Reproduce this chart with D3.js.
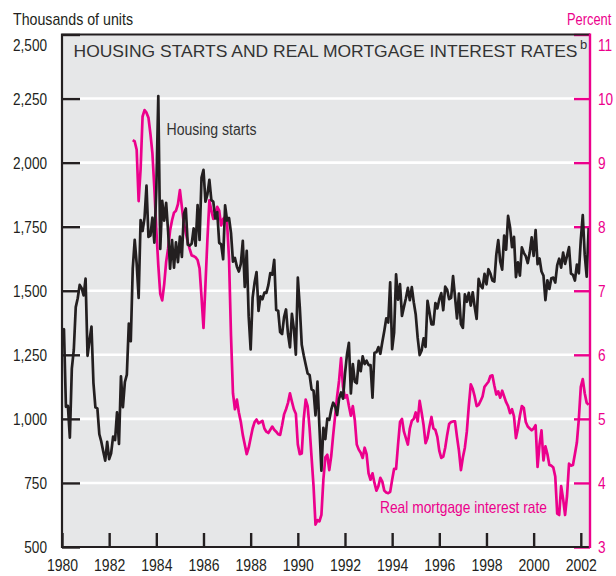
<!DOCTYPE html>
<html>
<head>
<meta charset="utf-8">
<script src="https://cdn.jsdelivr.net/npm/d3@7"></script>
<style>
  html, body { margin: 0; padding: 0; background: #fff; }
  svg { display: block; }
  text { font-family: "Liberation Sans", Arial, Helvetica, sans-serif; }
</style>
</head>
<body>
<svg id="chart" width="616" height="576"></svg>
<script>
// Housing starts, thousands of units (seasonally adjusted annual rate), monthly from Jan 1980
const housingStartYear = 1980;
const housingStarts = [
  1341, 1350, 1047, 1051, 927, 1196, 1269, 1436, 1471, 1523, 1510, 1482,   // 1980
  1547, 1246, 1306, 1360, 1140, 1045, 1041, 940, 911, 873, 837, 910,       // 1981
  843, 866, 931, 917, 1025, 902, 1166, 1046, 1144, 1173, 1372, 1303,       // 1982
  1586, 1699, 1606, 1472, 1776, 1733, 1785, 1910, 1710, 1715, 1785, 1688,  // 1983
  1897, 2260, 1663, 1851, 1774, 1843, 1732, 1586, 1698, 1590, 1689, 1612,  // 1984
  1711, 1632, 1800, 1821, 1680, 1676, 1684, 1743, 1676, 1834, 1698, 1942,  // 1985
  1972, 1848, 1876, 1933, 1854, 1847, 1782, 1807, 1687, 1681, 1623, 1833,  // 1986
  1774, 1784, 1726, 1614, 1628, 1594, 1575, 1605, 1695, 1515, 1656, 1400,  // 1987
  1271, 1473, 1532, 1573, 1421, 1478, 1467, 1493, 1492, 1522, 1569, 1563,  // 1988
  1621, 1425, 1422, 1339, 1331, 1397, 1427, 1332, 1279, 1410, 1351, 1251,  // 1989
  1551, 1437, 1289, 1248, 1212, 1177, 1171, 1115, 1110, 1014, 1145, 969,   // 1990
  798, 965, 921, 1001, 996, 1036, 1063, 1049, 1015, 1079, 1103, 1079,      // 1991
  1176, 1250, 1297, 1099, 1214, 1145, 1139, 1226, 1186, 1244, 1214, 1227,  // 1992
  1210, 1210, 1083, 1258, 1260, 1280, 1254, 1300, 1343, 1392, 1376, 1533,  // 1993
  1272, 1337, 1564, 1465, 1526, 1402, 1437, 1471, 1511, 1463, 1514, 1455,  // 1994
  1407, 1316, 1249, 1267, 1314, 1281, 1461, 1416, 1369, 1369, 1452, 1431,  // 1995
  1467, 1491, 1424, 1516, 1504, 1467, 1472, 1557, 1475, 1392, 1489, 1370,  // 1996
  1355, 1486, 1457, 1492, 1442, 1494, 1437, 1390, 1546, 1520, 1510, 1566,  // 1997
  1525, 1584, 1567, 1540, 1536, 1641, 1698, 1614, 1582, 1715, 1660, 1792,  // 1998
  1748, 1670, 1710, 1553, 1611, 1559, 1669, 1648, 1635, 1608, 1648, 1708,  // 1999
  1636, 1737, 1604, 1626, 1575, 1559, 1463, 1541, 1507, 1549, 1551, 1532,  // 2000
  1600, 1625, 1590, 1649, 1605, 1636, 1670, 1567, 1562, 1540, 1602, 1568,  // 2001
  1700, 1795, 1640, 1555, 1745                                             // 2002
];

// Real mortgage interest rate, percent, monthly from Jan 1983
const rateStartYear = 1983;
const mortgageRate = [
  9.35, 9.33, 9.2, 8.4, 8.9, 9.72, 9.82, 9.78, 9.7, 9.45, 9.15, 8.6,       // 1983
  7.95, 7.4, 6.95, 6.85, 7.1, 7.45, 7.66, 7.94, 8.1, 8.22, 8.25, 8.35,     // 1984
  8.57, 8.31, 8.05, 7.9, 7.76, 7.65, 7.55, 7.54, 7.52, 7.48, 7.35, 6.9,    // 1985
  6.42, 7.1, 7.8, 8.41, 8.25, 8.12, 8.2, 8.31, 8.25, 8.02, 8.12, 8.15,     // 1986
  8.05, 7.5, 6.3, 5.4, 5.15, 5.3, 5.1, 4.95, 4.75, 4.6, 4.45, 4.55,        // 1987
  4.7, 4.85, 4.95, 4.99, 4.93, 4.95, 4.97, 4.85, 4.8, 4.78, 4.83, 4.88,    // 1988
  4.83, 4.8, 4.76, 4.75, 4.9, 5.07, 5.15, 5.25, 5.4, 5.27, 5.15, 5.08,     // 1989
  4.6, 4.45, 4.46, 5.0, 5.3, 5.2, 4.85, 4.4, 3.95, 3.35, 3.42, 3.4,        // 1990
  3.5, 4.05, 4.4, 4.44, 4.2, 4.42, 4.75, 5.05, 5.35, 5.6, 5.95, 5.5,       // 1991
  5.33, 5.37, 5.2, 5.05, 5.2, 4.98, 4.6, 4.52, 4.47, 4.39, 4.55, 4.45,     // 1992
  4.15, 4.05, 4.15, 4.0, 3.88, 3.95, 4.08, 4.02, 3.88, 3.85, 3.84, 3.86,   // 1993
  4.05, 4.22, 4.22, 4.6, 4.95, 5.0, 4.8, 4.7, 4.6, 4.85, 4.97, 5.0,        // 1994
  5.1, 4.96, 5.28, 5.1, 4.9, 4.62, 4.7, 4.88, 5.03, 4.85, 4.83, 4.72,      // 1995
  4.5, 4.39, 4.41, 4.55, 4.75, 4.92, 4.95, 4.96, 4.96, 4.72, 4.5, 4.2,     // 1996
  4.4, 4.55, 4.8, 5.2, 5.54, 5.47, 5.35, 5.2, 5.22, 5.28, 5.35, 5.5,       // 1997
  5.54, 5.58, 5.67, 5.68, 5.52, 5.38, 5.43, 5.33, 5.44, 5.35, 5.26, 5.2,   // 1998
  5.09, 5.15, 5.04, 4.7, 4.85, 5.05, 5.2, 5.17, 4.95, 4.88, 4.85, 4.82,    // 1999
  4.85, 4.9, 4.25, 4.6, 4.82, 4.35, 4.57, 4.45, 4.28, 4.27, 4.24, 4.1,     // 2000
  3.52, 3.5, 3.95, 3.75, 3.5, 3.8, 4.3, 4.27, 4.28, 4.45, 4.63, 5.0,       // 2001
  5.5, 5.62, 5.4, 5.25, 5.22                                               // 2002
];

// Axis ticks and labels
const leftTicks = [500, 750, 1000, 1250, 1500, 1750, 2000, 2250, 2500];
const rightTicks = [3, 4, 5, 6, 7, 8, 9, 10, 11];
const yearTicks = [1980, 1982, 1984, 1986, 1988, 1990, 1992, 1994, 1996, 1998, 2000, 2002];
const titleText = "HOUSING STARTS AND REAL MORTGAGE INTEREST RATES";
const titleNote = "b";
const leftAxisTitle = "Thousands of units";
const rightAxisTitle = "Percent";
const housingLabel = "Housing starts";
const rateLabel = "Real mortgage interest rate";

const INK = "#231f20";
const PINK = "#ec008c";
const PANEL = "#e6e7e8";

const plot = { left: 62, right: 590, top: 34.5, bottom: 547 };

const x = d3.scaleLinear().domain([1980, 2002.39]).range([plot.left, plot.right]);
const yL = d3.scaleLinear().domain([500, 2500]).range([plot.bottom, plot.top]);
const yR = d3.scaleLinear().domain([3, 11]).range([plot.bottom, plot.top]);

const housingSeries = housingStarts.map((v, i) => ({ t: housingStartYear + i / 12, v }));
const rateSeries = mortgageRate.map((v, i) => ({ t: rateStartYear + i / 12, v }));

const svg = d3.select("#chart");

// condense a text element horizontally by a ratio of its natural width
function condense(sel, ratio) {
  sel.each(function () {
    const w = this.getComputedTextLength();
    d3.select(this).attr("textLength", (w * ratio).toFixed(1)).attr("lengthAdjust", "spacingAndGlyphs");
  });
}

// panel
svg.append("rect")
  .attr("x", plot.left).attr("y", plot.top)
  .attr("width", plot.right - plot.left).attr("height", plot.bottom - plot.top)
  .attr("fill", PANEL);

// white gridlines
svg.append("g").selectAll("line")
  .data(leftTicks.slice(1, -1))
  .join("line")
  .attr("x1", plot.left).attr("x2", plot.right)
  .attr("y1", d => yL(d)).attr("y2", d => yL(d))
  .attr("stroke", "#fff").attr("stroke-width", 2.6);

// left axis: inward ticks, labels outside
const leftAxis = svg.append("g")
  .attr("transform", `translate(${plot.left},0)`)
  .call(d3.axisLeft(yL).tickValues(leftTicks).tickFormat(d3.format(",")).tickSizeInner(-18).tickSizeOuter(0).tickPadding(15));
leftAxis.select(".domain").remove();
leftAxis.selectAll(".tick line").attr("stroke", INK).attr("stroke-width", 2.4);
leftAxis.selectAll(".tick text")
  .attr("fill", INK).attr("font-size", 17).attr("dy", "0.33em")
  .attr("y", d => d === 2500 ? 10 : 0);
leftAxis.attr("font-family", null).attr("font-size", null);
condense(leftAxis.selectAll(".tick text"), 0.8);

// right axis: pink inward ticks
const rightAxis = svg.append("g")
  .attr("transform", `translate(${plot.right},0)`)
  .call(d3.axisRight(yR).tickValues(rightTicks).tickFormat(d3.format("d")).tickSizeInner(-16).tickSizeOuter(0).tickPadding(8));
rightAxis.select(".domain").remove();
rightAxis.selectAll(".tick line").attr("stroke", PINK).attr("stroke-width", 2.4);
rightAxis.selectAll(".tick text")
  .attr("fill", PINK).attr("font-size", 17).attr("dy", "0.33em")
  .attr("y", d => d === 11 ? 10 : 0);
rightAxis.attr("font-family", null).attr("font-size", null);
condense(rightAxis.selectAll(".tick text"), 0.8);

// bottom axis: upward ticks
const bottomAxis = svg.append("g")
  .attr("transform", `translate(0,${plot.bottom})`)
  .call(d3.axisBottom(x).tickValues(yearTicks).tickFormat(d3.format("d")).tickSizeInner(-14).tickSizeOuter(0).tickPadding(12));
bottomAxis.select(".domain").remove();
bottomAxis.selectAll(".tick line").attr("stroke", INK).attr("stroke-width", 2.4);
bottomAxis.selectAll(".tick text").attr("fill", INK).attr("font-size", 16.5);
bottomAxis.attr("font-family", null).attr("font-size", null);
condense(bottomAxis.selectAll(".tick text"), 0.85);

// data lines
const lineL = d3.line().x(d => x(d.t)).y(d => yL(d.v));
const lineR = d3.line().x(d => x(d.t)).y(d => yR(d.v));

svg.append("path")
  .datum(rateSeries)
  .attr("d", lineR)
  .attr("fill", "none").attr("stroke", PINK).attr("stroke-width", 2.7)
  .attr("stroke-linejoin", "round");

svg.append("path")
  .datum(housingSeries)
  .attr("d", lineL)
  .attr("fill", "none").attr("stroke", INK).attr("stroke-width", 2.7)
  .attr("stroke-linejoin", "round");

// frame
const frame = svg.append("g").attr("fill", "none");
frame.append("path")
  .attr("d", `M${plot.right},${plot.top}H${plot.left}V${plot.bottom}H${plot.right}`)
  .attr("stroke", INK).attr("stroke-width", 2.2);
frame.append("line")
  .attr("x1", plot.right).attr("x2", plot.right)
  .attr("y1", plot.top - 1).attr("y2", plot.bottom + 1)
  .attr("stroke", PINK).attr("stroke-width", 2.4);

// title with note marker
svg.append("text")
  .attr("x", 73.5).attr("y", 56.5)
  .attr("font-size", 17.3).attr("fill", "#333")
  .attr("textLength", 504).attr("lengthAdjust", "spacingAndGlyphs")
  .text(titleText);
svg.append("text")
  .attr("x", 580).attr("y", 49)
  .attr("font-size", 13).attr("fill", "#333")
  .text(titleNote);

// axis titles
svg.append("text")
  .attr("x", 13).attr("y", 25)
  .attr("font-size", 17).attr("fill", INK)
  .attr("textLength", 120).attr("lengthAdjust", "spacingAndGlyphs")
  .text(leftAxisTitle);
// right-hand unit, squeezed horizontally so it stays inside the page
svg.append("text")
  .attr("transform", "translate(567,25) scale(0.78,1)")
  .attr("font-size", 16.5).attr("fill", PINK)
  .text(rightAxisTitle);

// series labels
svg.append("text")
  .attr("x", 166.5).attr("y", 134.5)
  .attr("font-size", 16).attr("fill", "#333")
  .attr("textLength", 90).attr("lengthAdjust", "spacingAndGlyphs")
  .text(housingLabel);
svg.append("text")
  .attr("x", 380).attr("y", 512.5)
  .attr("font-size", 16.5).attr("fill", PINK)
  .attr("textLength", 167).attr("lengthAdjust", "spacingAndGlyphs")
  .text(rateLabel);
</script>
</body>
</html>
